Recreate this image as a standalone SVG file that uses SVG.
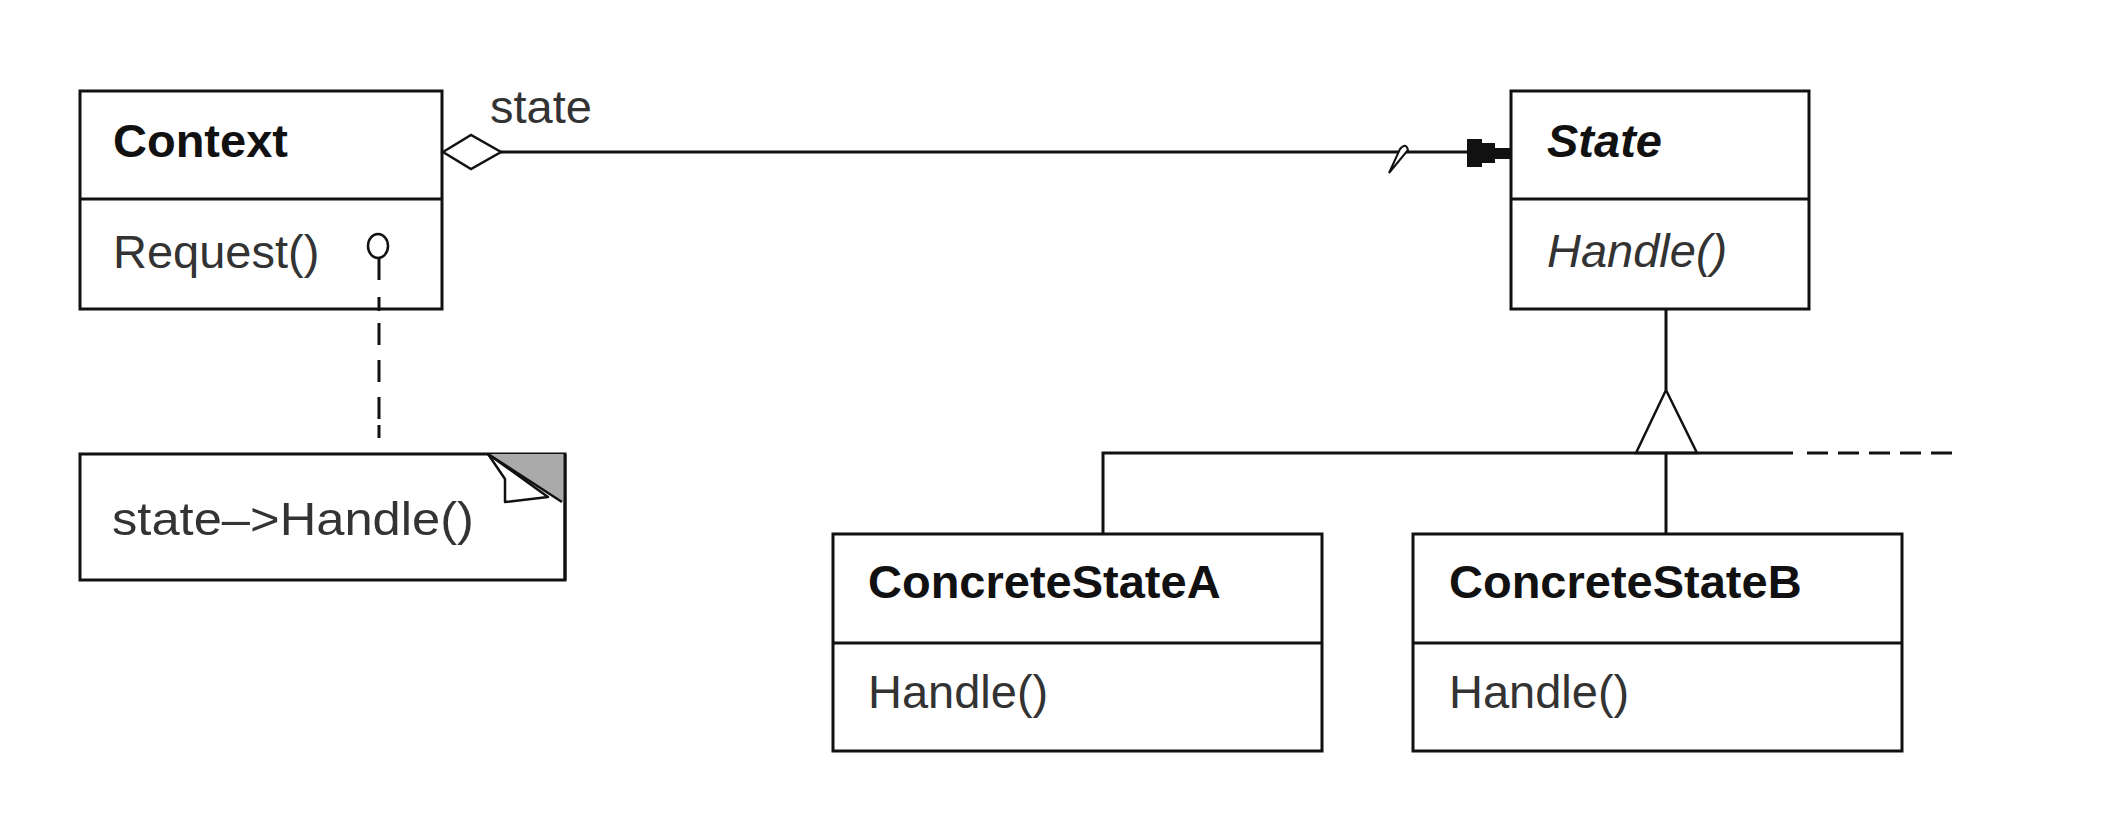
<svg xmlns="http://www.w3.org/2000/svg" width="2112" height="828" viewBox="0 0 2112 828">
<style>
.box{fill:#fff;stroke:#111;stroke-width:3}
.sep{stroke:#111;stroke-width:3}
.ln{stroke:#111;stroke-width:3;fill:none}
.nm{font-family:"Liberation Sans",Arial,sans-serif;font-size:47px;font-weight:bold;fill:#111}
.op{font-family:"Liberation Sans",Arial,sans-serif;font-size:47px;fill:#333}
</style>
<rect width="2112" height="828" fill="#fff"/>
<g id="context">
  <rect class="box" x="80" y="91" width="362" height="218"/>
  <line class="sep" x1="80" y1="199" x2="442" y2="199"/>
  <text class="nm" x="113" y="157">Context</text>
  <text class="op" x="113" y="268">Request()</text>
</g>
<g id="note">
  <rect class="box" x="80" y="454" width="485" height="126"/>
  <polygon points="488,454 565,454 565,503" fill="#aaa"/>
  <polygon points="488,454 505,479 505,502 548,497" fill="#fff" stroke="#111" stroke-width="2.5" stroke-linejoin="round"/>
  <line x1="488" y1="454" x2="562" y2="502" stroke="#111" stroke-width="2.5"/>
  <line x1="565" y1="454" x2="565" y2="580" stroke="#111" stroke-width="3"/>
  <text class="op" x="112" y="535" font-size="46" textLength="362" lengthAdjust="spacingAndGlyphs">state–&gt;Handle()</text>
</g>
<g id="state">
  <rect class="box" x="1511" y="91" width="298" height="218"/>
  <line class="sep" x1="1511" y1="199" x2="1809" y2="199"/>
  <text class="nm" x="1547" y="157" font-style="italic">State</text>
  <text class="op" x="1547" y="267" font-style="italic">Handle()</text>
</g>
<g id="concreteStateA">
  <rect class="box" x="833" y="534" width="489" height="217"/>
  <line class="sep" x1="833" y1="643" x2="1322" y2="643"/>
  <text class="nm" x="868" y="598">ConcreteStateA</text>
  <text class="op" x="868" y="708">Handle()</text>
</g>
<g id="concreteStateB">
  <rect class="box" x="1413" y="534" width="489" height="217"/>
  <line class="sep" x1="1413" y1="643" x2="1902" y2="643"/>
  <text class="nm" x="1449" y="598">ConcreteStateB</text>
  <text class="op" x="1449" y="708">Handle()</text>
</g>
<g id="connectors">
  <line class="ln" x1="500" y1="152" x2="1470" y2="152"/>
  <polygon points="443,152 471,135 501,152 471,169" fill="#fff" stroke="#111" stroke-width="2.5"/>
  <path d="M1467,139 H1482 V143 H1495 V148 H1510 V159 H1495 V163 H1482 V167 H1467 Z" fill="#111"/>
  <path d="M1389,173 L1400,149 Q1406,142 1408,150 Z" fill="#fff" stroke="#111" stroke-width="2"/>
  <ellipse cx="378" cy="246" rx="10" ry="12" fill="#fff" stroke="#111" stroke-width="2.5"/>
  <path class="ln" d="M379,258 V280 M379,297 V311 M379,323 V345 M379,360 V382 M379,397 V419 M379,425 V438" stroke-width="2.5"/>
  <line class="ln" x1="1666" y1="309" x2="1666" y2="390"/>
  <polygon points="1666,390 1697,453 1636,453" fill="#fff" stroke="#111" stroke-width="2.5"/>
  <path class="ln" d="M1103,534 V453 H1793"/>
  <line class="ln" x1="1666" y1="453" x2="1666" y2="534"/>
  <line class="ln" x1="1807" y1="453" x2="1955" y2="453" stroke-dasharray="21 10"/>
  <text class="op" x="490" y="123">state</text>
</g>
</svg>
